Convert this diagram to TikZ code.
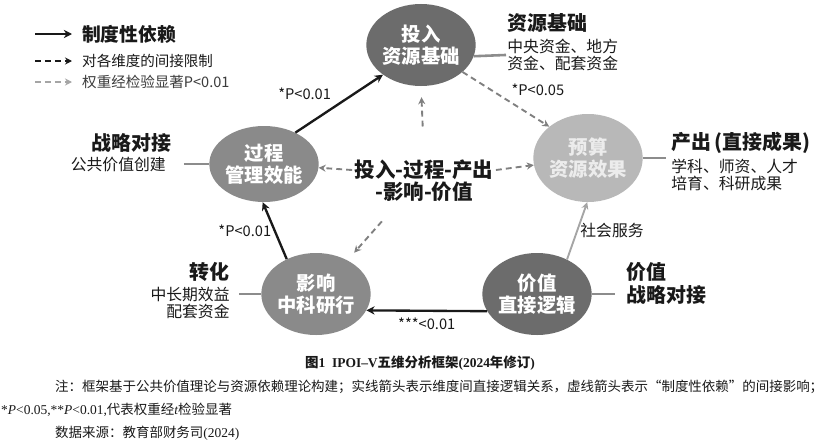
\documentclass[tikz,border=0pt]{standalone}
\usepackage{fontspec}
\setmainfont{Noto Sans CJK SC}
\newfontfamily\tnr{Liberation Serif}
\usetikzlibrary{shapes.geometric, arrows.meta, positioning}
\definecolor{inkdark}{RGB}{25, 25, 25}
\definecolor{graydeep}{RGB}{108, 108, 108}
\definecolor{graymid}{RGB}{138, 138, 138}
\definecolor{graylight}{RGB}{184, 184, 184}
\definecolor{graytext}{RGB}{236, 236, 236}
\definecolor{graylink}{RGB}{140, 140, 140}
\definecolor{graydash}{RGB}{128, 128, 128}
\definecolor{graysoft}{RGB}{165, 165, 165}
\definecolor{legendgray}{RGB}{60, 60, 60}
\tikzset{
    dimension/.style={ellipse, text=white, inner sep=0pt, align=center, font=\fontsize{16.5}{19}\selectfont\bfseries},
    tagtitle/.style={text=inkdark, inner sep=1pt, align=left, font=\fontsize{17}{19.5}\selectfont\bfseries},
    tagbody/.style={text=inkdark, inner sep=1pt, font=\fontsize{13.5}{15}\selectfont},
    plabel/.style={text=inkdark, inner sep=2pt, font=\fontsize{12.5}{14}\selectfont},
    arrow/.style={-{Stealth[length=7pt, width=7pt]}, inkdark, line width=2pt},
    dasharrow/.style={-{Stealth[length=6pt, width=6pt]}, graydash, line width=1.6pt, dash pattern=on 5pt off 3.5pt},
    link/.style={graylink, line width=2.2pt},
    notetext/.style={text=inkdark, inner sep=0pt, anchor=west, font=\fontsize{11.5}{13}\selectfont}
}

\begin{document}
\begin{tikzpicture}[x=0.03cm, y=-0.03cm]
            \useasboundingbox [fill=white] (0,0) rectangle (823,444);

            \node (inp) [dimension, fill=graydeep, minimum width=2.94cm, minimum height=2.46cm] at (421,45) {投入\\资源基础};
            \node (proc) [dimension, fill=graymid, minimum width=3.18cm, minimum height=2.28cm] at (264,164) {过程\\管理效能};
            \node (outp) [dimension, fill=graylight, text=graytext, minimum width=3.12cm, minimum height=2.64cm] at (588,158) {预算\\资源效果};
            \node (imp) [dimension, fill=graymid, minimum width=3.09cm, minimum height=2.46cm] at (316,294) {影响\\中科研行};
            \node (val) [dimension, fill=graydeep, minimum width=3.06cm, minimum height=2.46cm] at (537,294) {价值\\直接逻辑};

            \node (core) [text=inkdark, inner sep=2pt, font=\fontsize{17.5}{20}\selectfont\bfseries] at (424,170) {投入-过程-产出};
            \node (core2) [text=inkdark, inner sep=2pt, font=\fontsize{17.5}{20}\selectfont\bfseries, below=-3pt of core] {-影响-价值};

            \node (restitle) [tagtitle, anchor=west] at (506,23) {资源基础};
            \node (resbody) [tagbody, align=left, below=3pt of restitle.south west, anchor=north west] {中央资金、地方\\资金、配套资金};
            \node (strattitle) [tagtitle, anchor=east] at (173,143) {战略对接};
            \node (stratbody) [tagbody, below=2pt of strattitle.south east, anchor=north east, xshift=-5pt] {公共价值创建};
            \node (prodtitle) [tagtitle, anchor=west] at (670,143) {产出\,(直接成果)};
            \node (prodbody) [tagbody, align=left, below=2pt of prodtitle.south west, anchor=north west] {学科、师资、人才\\培育、科研成果};
            \node (transtitle) [tagtitle, anchor=east] at (231,272) {转化};
            \node (transbody) [tagbody, align=right, below=2pt of transtitle.south east, anchor=north east] {中长期效益\\配套资金};
            \node (valtag) [tagtitle, anchor=west] at (625,283) {价值\\战略对接};

            \draw [link] (inp.-12) -- (resbody.west);
            \draw [link, shorten <=0.5cm] (stratbody.east |- proc.west) -- (proc.west);
            \draw [link, shorten >=0.12cm] (outp.east) -- (outp.east -| prodbody.west);
            \draw [link, shorten <=0.24cm] (transbody.east |- imp.west) -- (imp.west);
            \draw [link, shorten >=0.3cm] (val.east) -- (val.east -| valtag.west);

            \draw [arrow] (proc.45) -- node [plabel, above left, xshift=-4pt] {*P<0.01} (inp.218);
            \draw [arrow] (imp.130) -- node [plabel, left] {*P<0.01} (proc.268);
            \draw [arrow] (val.199) -- node [plabel, below=3pt] {***<0.01} (imp.342);
            \draw [-{Stealth[length=6pt, width=6pt]}, graysoft, line width=1.6pt] (val.49) -- node [plabel, right] {\fontsize{13.5}{15}\selectfont 社会服务} (outp.269);
            \draw [dasharrow] (inp.-33) -- node [plabel, above right, xshift=2pt] {*P<0.05} (outp.141);

            \draw [dasharrow] (core.west) -- (proc);
            \draw [dasharrow] (core.east) -- (outp);
            \draw [dasharrow, shorten <=0.93cm, shorten >=0.33cm] (core.north) -- (inp.south);
            \draw [dasharrow, shorten <=0.7cm, shorten >=0.3cm] (core2.205) -- (imp.47);

            \coordinate (lg1) at (35,34);
            \coordinate (lg2) at (35,61);
            \coordinate (lg3) at (35,82);
            \node (lgt1) [anchor=west, inner sep=0pt, text=inkdark, font=\fontsize{16}{18}\selectfont\bfseries] at (82,34) {制度性依赖};
            \node (lgt2) [anchor=west, inner sep=0pt, text=inkdark, font=\fontsize{12.4}{14}\selectfont] at (82,61) {对各维度的间接限制};
            \node (lgt3) [anchor=west, inner sep=0pt, text=legendgray, font=\fontsize{12.4}{14}\selectfont] at (82,82) {权重经检验显著P<0.01};
            \draw [arrow, shorten >=0.3cm] (lg1) -- (lgt1.west);
            \draw [dasharrow, inkdark, shorten >=0.3cm] (lg2) -- (lgt2.west);
            \draw [dasharrow, graysoft, shorten >=0.3cm] (lg3) -- (lgt3.west);

            \node (fig) [text=inkdark, inner sep=0pt, font=\fontsize{11.5}{13}\selectfont\bfseries] at (420,363) {图{\tnr\bfseries 1\ \ IPOI–V}五维分析框架{\tnr\bfseries (2024}年修订{\tnr\bfseries )}};
            \node (note1) [notetext] at (55,387) {注：框架基于公共价值理论与资源依赖理论构建；实线箭头表示维度间直接逻辑关系，虚线箭头表示“制度性依赖”的间接影响；};
            \node (note2) [notetext] at (1,410) {{\tnr *\textit{P}<0.05,**\textit{P}<0.01,}代表权重经{\tnr\itshape t}检验显著};
            \node (note3) [notetext] at (55,433) {数据来源：教育部财务司{\tnr (2024)}};
        \end{tikzpicture}
\end{document}
